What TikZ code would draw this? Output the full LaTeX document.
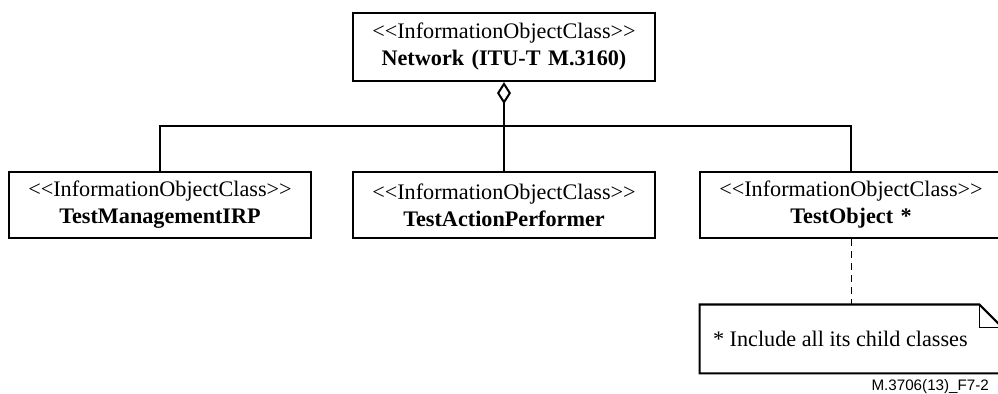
\documentclass[tikz,border=0pt]{standalone}
\usepackage{fontspec}
\setmainfont{Liberation Serif}[Ligatures=TeXOff]
\setsansfont{Liberation Sans}
\usetikzlibrary{arrows.meta}

\begin{document}
\begin{tikzpicture}[x=0.5pt, y=-0.5pt, node distance=79pt, every node/.style={font=\fontsize{11.1}{13.5}\selectfont}]
	\tikzstyle{ioc} = [rectangle, draw, line width=1.1pt, minimum width=151pt, minimum height=33pt, text width=140pt, align=center, inner sep=0pt]
	\tikzstyle{note} = [rectangle, minimum width=151pt, minimum height=34pt, text width=138pt, align=flush left, inner xsep=6.5pt, inner ysep=0pt]
	\tikzstyle{link} = [line width=1pt]
	\tikzstyle{notelink} = [line width=0.5pt, dash pattern=on 3.5pt off 2.5pt]

	\useasboundingbox (0,0) rectangle (998,394);

	\node[ioc, minimum height=34pt] (network) at (504,47) {<<InformationObjectClass>>\\ \textbf{Network (ITU-T M.3160)}};
	\node[ioc] (performer) [below of=network] {<<InformationObjectClass>>\\ \textbf{TestActionPerformer}};
	\node[ioc, node distance=172pt] (mgmtirp) [left of=performer] {<<InformationObjectClass>>\\ \textbf{TestManagementIRP}};
	\node[ioc, node distance=173.5pt] (testobject) [right of=performer] {<<InformationObjectClass>>\\ \textbf{TestObject *}};
	\node[note, node distance=67pt] (note) [below of=testobject] {* Include all its child classes};
	\node[font=\sffamily\fontsize{7.6}{9}\selectfont, anchor=east] (figlabel) at (996,387) {M.3706(13)\_F7-2};

	\coordinate (bus) at (504,126);

	\draw[link, {Diamond[open, fill=white, length=11pt, width=7pt]}-] (network.south) -- (performer.north);
	\draw[link] (mgmtirp.north) |- (bus) -| (testobject.north);
	\draw[notelink] (testobject.south) -- (note.north);

	% note with folded corner
	\draw[line width=1.1pt] (note.north west) -- ([xshift=-11.5pt]note.north east) -- ([yshift=-11.5pt]note.north east) -- (note.south east) -- (note.south west) -- cycle;
	\draw[line width=0.8pt] ([xshift=-11.5pt]note.north east) |- ([yshift=-11.5pt]note.north east);
\end{tikzpicture}
\end{document}
